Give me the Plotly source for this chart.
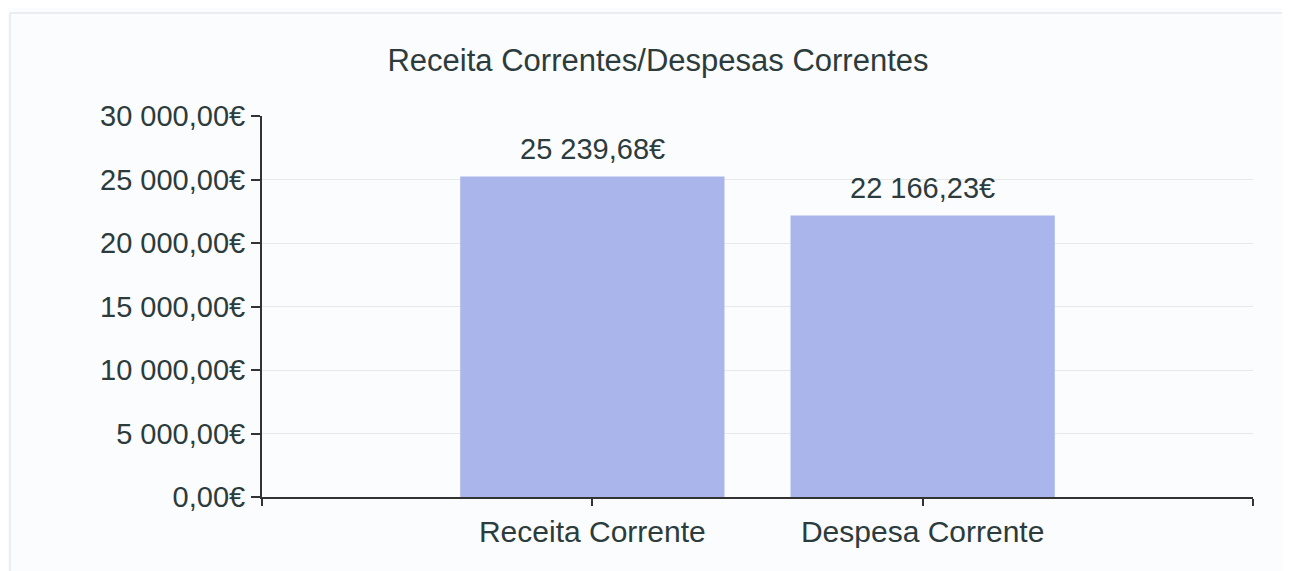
import plotly.graph_objects as go

categories = ["Receita Corrente", "Despesa Corrente"]
values = [25239.68, 22166.23]
y_ticks = [0, 5000, 10000, 15000, 20000, 25000, 30000]
title_text = "Receita Correntes/Despesas Correntes"


def eur(v):
    s = f"{v:,.2f}"
    s = s.replace(",", " ").replace(".", ",")
    return s + "€"


positions = list(range(len(categories)))
font_fam = "Liberation Sans, Arial, sans-serif"
txt_col = "#2c3b3c"

# page has an 8px body margin: shift geometry accordingly
L, R, T, B = 254, 45, 108, 82
PW = 1290 - L - R
PH = 571 - T - B

fig = go.Figure()
fig.add_trace(go.Bar(
    x=positions, y=values, width=0.8,
    marker=dict(color="#aab6eb", line=dict(width=0)),
    hoverinfo="skip", showlegend=False,
))

for p, v in zip(positions, values):
    fig.add_annotation(x=p, y=v, text=eur(v), showarrow=False,
                       yanchor="bottom", yshift=9,
                       font=dict(size=29, color=txt_col, family=font_fam))

fig.update_layout(
    width=1290, height=571,
    margin=dict(l=L, r=R, t=T, b=B),
    paper_bgcolor="#fbfcfd", plot_bgcolor="#fbfcfd",
    font=dict(family=font_fam, size=29, color=txt_col),
    title=dict(text=title_text, x=650 / 1290, xanchor="center",
               y=1 - 52 / 571, yanchor="middle",
               font=dict(size=31, color=txt_col, family=font_fam)),
    bargap=0.2,
)
fig.update_xaxes(
    range=[-1.0, 2.0],
    tickvals=[-1] + positions + [2],
    ticktext=[""] + categories + [""],
    ticks="outside", ticklen=7, tickcolor="#333", tickwidth=2,
    showline=True, linecolor="#333", linewidth=2,
    showgrid=False, zeroline=False,
    tickfont=dict(size=30, color=txt_col),
)
fig.update_yaxes(
    range=[0, 30000],
    tickvals=y_ticks, ticktext=[eur(t) for t in y_ticks],
    ticks="outside", ticklen=9, tickcolor="#333", tickwidth=2,
    showline=True, linecolor="#333", linewidth=2,
    showgrid=True, gridcolor="#e6e8ea", gridwidth=1,
    zeroline=False,
    tickfont=dict(size=29, color=txt_col),
)
fig.add_shape(type="rect", xref="paper", yref="paper",
              x0=-(L - 2) / PW, x1=1.0 + (R + 20) / PW,
              y0=-(B + 20) / PH, y1=1 + (T - 5) / PH,
              line=dict(color="#dcdfe2", width=1))
fig.write_html("out.html")
